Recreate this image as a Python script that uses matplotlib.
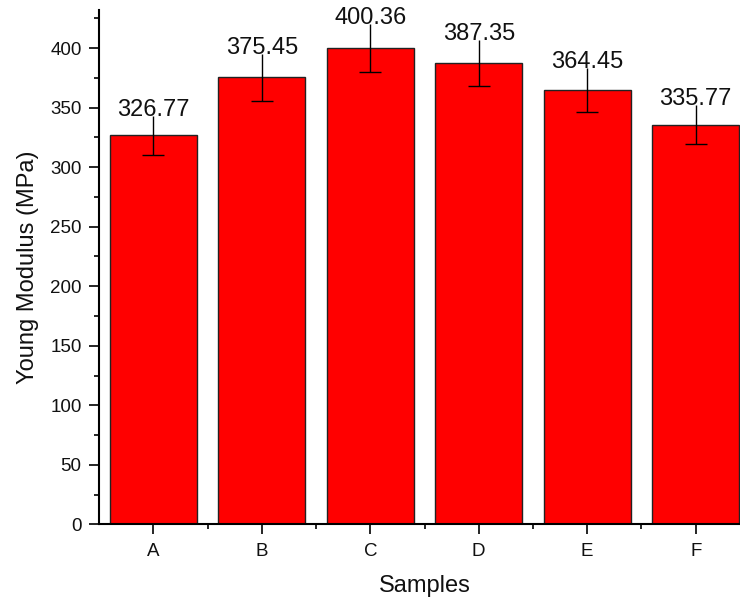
import matplotlib
matplotlib.use("Agg")
import matplotlib.pyplot as plt
from matplotlib.ticker import MultipleLocator
import numpy as np

plt.rcParams['font.family'] = ['Liberation Sans', 'DejaVu Sans']

samples = ['A', 'B', 'C', 'D', 'E', 'F']
modulus = [326.77, 375.45, 400.36, 387.35, 364.45, 335.77]
modulus_err = [16.3, 19.6, 20.2, 19.3, 18.5, 16.6]

fig = plt.figure(figsize=(7.40, 6.01), dpi=100)
ax = fig.add_axes([0.1338, 0.1276, 0.8797, 0.8557])

x = np.arange(len(samples))
ax.bar(x, modulus, width=0.8, color='#ff0000', edgecolor='#222222',
       linewidth=1.0, zorder=2)

eb = ax.errorbar(x, modulus, yerr=modulus_err, fmt='none', ecolor='black',
                 elinewidth=1.0, capsize=8, capthick=1.0, zorder=3)
# only the lower caps are shown
eb.lines[1][1].set_visible(False)

for xi, val, err in zip(x, modulus, modulus_err):
    ax.text(xi, val + err, f'{val:.2f}', ha='center', va='baseline',
            fontsize=17, color='#111111', zorder=4)

ax.set_xlim(-0.5, 5.5)
ax.set_ylim(0, 432)
ax.set_xticks(x)
ax.set_xticklabels(samples)
ax.xaxis.set_minor_locator(MultipleLocator(1))
ax.xaxis.set_minor_locator(matplotlib.ticker.FixedLocator(x[:-1] + 0.5))
ax.yaxis.set_major_locator(MultipleLocator(50))
ax.yaxis.set_minor_locator(MultipleLocator(25))

ax.tick_params(axis='both', which='major', direction='out', length=7.5,
               width=1.2, labelsize=13.5, color='black', labelcolor='#111111')
ax.tick_params(axis='both', which='minor', direction='out', length=3.5,
               width=1.2)
ax.tick_params(axis='y', which='major', pad=5)
ax.tick_params(axis='x', which='major', pad=6)

for side in ['top', 'right']:
    ax.spines[side].set_visible(False)
for side in ['left', 'bottom']:
    ax.spines[side].set_linewidth(1.5)

ax.set_xlabel('Samples', fontsize=17, labelpad=11, color='#111111')
ax.set_ylabel('Young Modulus (MPa)', fontsize=17, labelpad=8, color='#111111')

fig.savefig('out.png', dpi=100)
